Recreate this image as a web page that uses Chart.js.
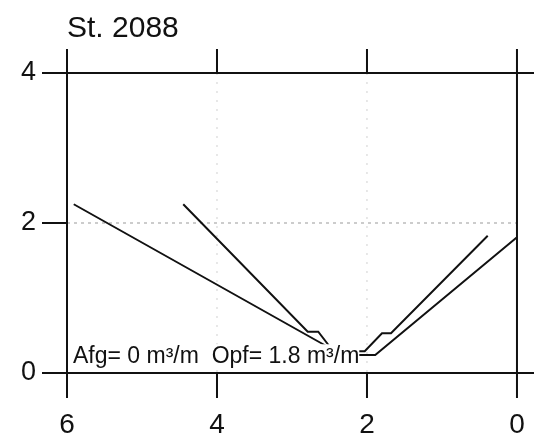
<!DOCTYPE html>
<html>
<head>
<meta charset="utf-8">
<script src="https://cdn.jsdelivr.net/npm/chart.js@4/dist/chart.umd.min.js"></script>
<style>
  body { margin: 0; background: #fff; }
  canvas { display: block; }
</style>
</head>
<body>
<canvas id="chart" width="534" height="438"></canvas>
<script>
// station title and the note inside the plot
const stationTitle = 'St. 2088';
const noteText = 'Afg= 0 m\u00b3/m  Opf= 1.8 m\u00b3/m';

// tick values on both axes
const xTicks = [6, 4, 2, 0];
const yTicks = [0, 2, 4];

// profile A (the long, lower one)
const profileAx = [5.91, 2.49, 2.33, 1.89, 0];
const profileAy = [2.25, 0.33, 0.24, 0.24, 1.81];

// profile B (the shorter one with small steps)
const profileBx = [4.45, 2.79, 2.65, 2.48, 2.36, 2.03, 1.80, 1.68, 0.39];
const profileBy = [2.25, 0.55, 0.55, 0.33, 0.29, 0.29, 0.53, 0.53, 1.83];

const fontFamily = '"Liberation Sans", Arial, Helvetica, sans-serif';

function toPoints(xs, ys) {
  return xs.map((x, i) => ({ x: x, y: ys[i] }));
}

// draws the frame, the ticks and the faint dotted grid from the scales
const framePlugin = {
  id: 'frame',
  beforeDatasetsDraw(chart) {
    const ctx = chart.ctx;
    const xs = chart.scales.x, ys = chart.scales.y;
    const area = chart.chartArea;
    const tick = 25;
    const x6 = xs.getPixelForValue(6), x0 = xs.getPixelForValue(0);
    const y4 = ys.getPixelForValue(4), y0 = ys.getPixelForValue(0);
    const y2 = ys.getPixelForValue(2);

    ctx.save();
    // dotted grid, the vertical ones are barely visible
    ctx.lineWidth = 1;
    ctx.strokeStyle = '#d0d0d0';
    ctx.setLineDash([2, 7]);
    ctx.beginPath();
    [4, 2].forEach(v => {
      const px = xs.getPixelForValue(v);
      ctx.moveTo(px, y4);
      ctx.lineTo(px, y0);
    });
    ctx.stroke();
    ctx.strokeStyle = '#999';
    ctx.setLineDash([3, 4]);
    ctx.beginPath();
    ctx.moveTo(x6, y2);
    ctx.lineTo(x0, y2);
    ctx.stroke();

    // solid frame and ticks
    ctx.setLineDash([]);
    ctx.strokeStyle = '#111';
    ctx.lineWidth = 2;
    ctx.beginPath();
    [4, 0].forEach(v => {
      const py = ys.getPixelForValue(v);
      ctx.moveTo(x6 - tick, py);
      ctx.lineTo(area.right, py);
    });
    [6, 0].forEach(v => {
      const px = xs.getPixelForValue(v);
      ctx.moveTo(px, area.top);
      ctx.lineTo(px, y0 + tick);
    });
    [4, 2].forEach(v => {
      const px = xs.getPixelForValue(v);
      ctx.moveTo(px, area.top);
      ctx.lineTo(px, y4);
      ctx.moveTo(px, y0);
      ctx.lineTo(px, y0 + tick);
    });
    ctx.moveTo(x6 - tick, y2);
    ctx.lineTo(x6, y2);
    ctx.stroke();
    ctx.restore();
  },
  afterDatasetsDraw(chart) {
    const ctx = chart.ctx;
    const xs = chart.scales.x, ys = chart.scales.y;
    const tx = xs.getPixelForValue(5.92);
    const ty = ys.getPixelForValue(0.13);
    ctx.save();
    ctx.font = '23px ' + fontFamily;
    const w = ctx.measureText(noteText).width;
    ctx.fillStyle = '#fff';
    ctx.fillRect(tx, ty - 19, w, 22);
    ctx.fillStyle = '#111';
    ctx.textBaseline = 'alphabetic';
    ctx.fillText(noteText, tx, ty);
    ctx.restore();
  }
};

function noEdgePadding(s) {
  s.paddingLeft = 0;
  s.paddingRight = 0;
  s.paddingTop = 0;
  s.paddingBottom = 0;
}

new Chart(document.getElementById('chart').getContext('2d'), {
  type: 'scatter',
  data: {
    datasets: [
      {
        data: toPoints(profileAx, profileAy),
        showLine: true,
        borderColor: '#111',
        borderWidth: 2,
        pointRadius: 0,
        tension: 0
      },
      {
        data: toPoints(profileBx, profileBy),
        showLine: true,
        borderColor: '#111',
        borderWidth: 2,
        pointRadius: 0,
        tension: 0
      }
    ]
  },
  options: {
    responsive: false,
    animation: false,
    devicePixelRatio: 1,
    layout: { padding: 0 },
    plugins: {
      legend: { display: false },
      tooltip: { enabled: false },
      title: {
        display: true,
        text: stationTitle,
        align: 'start',
        fullSize: false,
        color: '#111',
        font: { family: fontFamily, size: 30, weight: 'normal' },
        padding: { top: 11, bottom: 2 }
      }
    },
    scales: {
      x: {
        type: 'linear',
        reverse: true,
        min: -0.227,
        max: 6,
        afterBuildTicks: s => { s.ticks = xTicks.map(v => ({ value: v })); },
        afterFit: s => { s.height = 65; noEdgePadding(s); },
        grid: { display: false, drawTicks: false },
        border: { display: false },
        ticks: {
          autoSkip: false,
          maxRotation: 0,
          padding: 35,
          color: '#111',
          font: { family: fontFamily, size: 28 }
        }
      },
      y: {
        type: 'linear',
        min: 0,
        max: 4.32,
        afterBuildTicks: s => { s.ticks = yTicks.map(v => ({ value: v })); },
        afterFit: s => { s.width = 67; noEdgePadding(s); },
        grid: { display: false, drawTicks: false },
        border: { display: false },
        ticks: {
          padding: 31,
          color: '#111',
          font: { family: fontFamily, size: 27 }
        }
      }
    }
  },
  plugins: [framePlugin]
});
</script>
</body>
</html>
